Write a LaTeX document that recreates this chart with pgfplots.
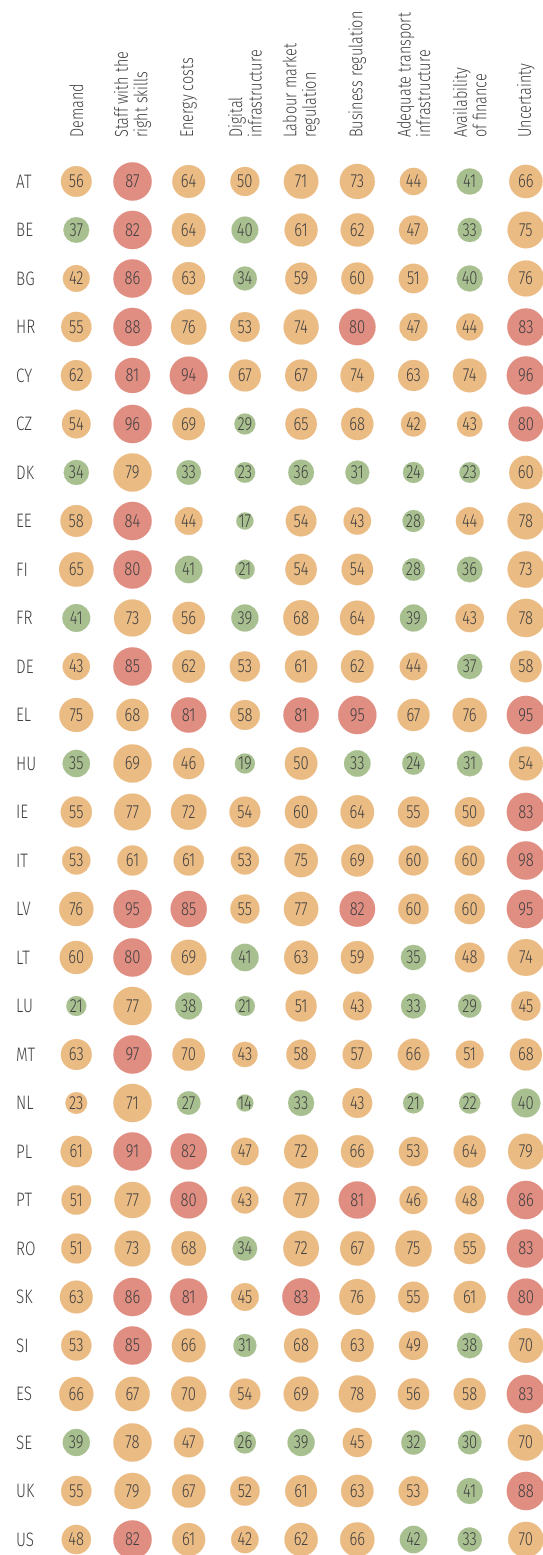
\documentclass[border=0pt]{standalone}
\usepackage{fontspec}
\setmainfont{Fira Sans}[UprightFont=* Light, FakeStretch=0.78]
\usepackage{pgfplots}
\pgfplotsset{compat=1.18}
\usepackage{pgfplotstable}
\definecolor{cgreen}{RGB}{168,192,144}
\definecolor{corange}{RGB}{235,187,132}
\definecolor{cred}{RGB}{224,141,130}
\definecolor{ctext}{RGB}{64,64,64}

% x = column, y = country row, v = value, k = colour class (0 green, 1 orange, 2 red), m = largest value of the row
\pgfplotstableread[row sep=\\]{
x y v k m\\
0 0 56 1 87\\ 1 0 87 2 87\\ 2 0 64 1 87\\ 3 0 50 1 87\\ 4 0 71 1 87\\ 5 0 73 1 87\\ 6 0 44 1 87\\ 7 0 41 0 87\\ 8 0 66 1 87\\
0 1 37 0 82\\ 1 1 82 2 82\\ 2 1 64 1 82\\ 3 1 40 0 82\\ 4 1 61 1 82\\ 5 1 62 1 82\\ 6 1 47 1 82\\ 7 1 33 0 82\\ 8 1 75 1 82\\
0 2 42 1 86\\ 1 2 86 2 86\\ 2 2 63 1 86\\ 3 2 34 0 86\\ 4 2 59 1 86\\ 5 2 60 1 86\\ 6 2 51 1 86\\ 7 2 40 0 86\\ 8 2 76 1 86\\
0 3 55 1 88\\ 1 3 88 2 88\\ 2 3 76 1 88\\ 3 3 53 1 88\\ 4 3 74 1 88\\ 5 3 80 2 88\\ 6 3 47 1 88\\ 7 3 44 1 88\\ 8 3 83 2 88\\
0 4 62 1 96\\ 1 4 81 2 96\\ 2 4 94 2 96\\ 3 4 67 1 96\\ 4 4 67 1 96\\ 5 4 74 1 96\\ 6 4 63 1 96\\ 7 4 74 1 96\\ 8 4 96 2 96\\
0 5 54 1 96\\ 1 5 96 2 96\\ 2 5 69 1 96\\ 3 5 29 0 96\\ 4 5 65 1 96\\ 5 5 68 1 96\\ 6 5 42 1 96\\ 7 5 43 1 96\\ 8 5 80 2 96\\
0 6 34 0 79\\ 1 6 79 1 79\\ 2 6 33 0 79\\ 3 6 23 0 79\\ 4 6 36 0 79\\ 5 6 31 0 79\\ 6 6 24 0 79\\ 7 6 23 0 79\\ 8 6 60 1 79\\
0 7 58 1 84\\ 1 7 84 2 84\\ 2 7 44 1 84\\ 3 7 17 0 84\\ 4 7 54 1 84\\ 5 7 43 1 84\\ 6 7 28 0 84\\ 7 7 44 1 84\\ 8 7 78 1 84\\
0 8 65 1 80\\ 1 8 80 2 80\\ 2 8 41 0 80\\ 3 8 21 0 80\\ 4 8 54 1 80\\ 5 8 54 1 80\\ 6 8 28 0 80\\ 7 8 36 0 80\\ 8 8 73 1 80\\
0 9 41 0 78\\ 1 9 73 1 78\\ 2 9 56 1 78\\ 3 9 39 0 78\\ 4 9 68 1 78\\ 5 9 64 1 78\\ 6 9 39 0 78\\ 7 9 43 1 78\\ 8 9 78 1 78\\
0 10 43 1 85\\ 1 10 85 2 85\\ 2 10 62 1 85\\ 3 10 53 1 85\\ 4 10 61 1 85\\ 5 10 62 1 85\\ 6 10 44 1 85\\ 7 10 37 0 85\\ 8 10 58 1 85\\
0 11 75 1 95\\ 1 11 68 1 95\\ 2 11 81 2 95\\ 3 11 58 1 95\\ 4 11 81 2 95\\ 5 11 95 2 95\\ 6 11 67 1 95\\ 7 11 76 1 95\\ 8 11 95 2 95\\
0 12 35 0 69\\ 1 12 69 1 69\\ 2 12 46 1 69\\ 3 12 19 0 69\\ 4 12 50 1 69\\ 5 12 33 0 69\\ 6 12 24 0 69\\ 7 12 31 0 69\\ 8 12 54 1 69\\
0 13 55 1 83\\ 1 13 77 1 83\\ 2 13 72 1 83\\ 3 13 54 1 83\\ 4 13 60 1 83\\ 5 13 64 1 83\\ 6 13 55 1 83\\ 7 13 50 1 83\\ 8 13 83 2 83\\
0 14 53 1 98\\ 1 14 61 1 98\\ 2 14 61 1 98\\ 3 14 53 1 98\\ 4 14 75 1 98\\ 5 14 69 1 98\\ 6 14 60 1 98\\ 7 14 60 1 98\\ 8 14 98 2 98\\
0 15 76 1 95\\ 1 15 95 2 95\\ 2 15 85 2 95\\ 3 15 55 1 95\\ 4 15 77 1 95\\ 5 15 82 2 95\\ 6 15 60 1 95\\ 7 15 60 1 95\\ 8 15 95 2 95\\
0 16 60 1 80\\ 1 16 80 2 80\\ 2 16 69 1 80\\ 3 16 41 0 80\\ 4 16 63 1 80\\ 5 16 59 1 80\\ 6 16 35 0 80\\ 7 16 48 1 80\\ 8 16 74 1 80\\
0 17 21 0 77\\ 1 17 77 1 77\\ 2 17 38 0 77\\ 3 17 21 0 77\\ 4 17 51 1 77\\ 5 17 43 1 77\\ 6 17 33 0 77\\ 7 17 29 0 77\\ 8 17 45 1 77\\
0 18 63 1 97\\ 1 18 97 2 97\\ 2 18 70 1 97\\ 3 18 43 1 97\\ 4 18 58 1 97\\ 5 18 57 1 97\\ 6 18 66 1 97\\ 7 18 51 1 97\\ 8 18 68 1 97\\
0 19 23 1 71\\ 1 19 71 1 71\\ 2 19 27 0 71\\ 3 19 14 0 71\\ 4 19 33 0 71\\ 5 19 43 1 71\\ 6 19 21 0 71\\ 7 19 22 0 71\\ 8 19 40 0 71\\
0 20 61 1 91\\ 1 20 91 2 91\\ 2 20 82 2 91\\ 3 20 47 1 91\\ 4 20 72 1 91\\ 5 20 66 1 91\\ 6 20 53 1 91\\ 7 20 64 1 91\\ 8 20 79 1 91\\
0 21 51 1 86\\ 1 21 77 1 86\\ 2 21 80 2 86\\ 3 21 43 1 86\\ 4 21 77 1 86\\ 5 21 81 2 86\\ 6 21 46 1 86\\ 7 21 48 1 86\\ 8 21 86 2 86\\
0 22 51 1 83\\ 1 22 73 1 83\\ 2 22 68 1 83\\ 3 22 34 0 83\\ 4 22 72 1 83\\ 5 22 67 1 83\\ 6 22 75 1 83\\ 7 22 55 1 83\\ 8 22 83 2 83\\
0 23 63 1 86\\ 1 23 86 2 86\\ 2 23 81 2 86\\ 3 23 45 1 86\\ 4 23 83 2 86\\ 5 23 76 1 86\\ 6 23 55 1 86\\ 7 23 61 1 86\\ 8 23 80 2 86\\
0 24 53 1 85\\ 1 24 85 2 85\\ 2 24 66 1 85\\ 3 24 31 0 85\\ 4 24 68 1 85\\ 5 24 63 1 85\\ 6 24 49 1 85\\ 7 24 38 0 85\\ 8 24 70 1 85\\
0 25 66 1 83\\ 1 25 67 1 83\\ 2 25 70 1 83\\ 3 25 54 1 83\\ 4 25 69 1 83\\ 5 25 78 1 83\\ 6 25 56 1 83\\ 7 25 58 1 83\\ 8 25 83 2 83\\
0 26 39 0 78\\ 1 26 78 1 78\\ 2 26 47 1 78\\ 3 26 26 0 78\\ 4 26 39 0 78\\ 5 26 45 1 78\\ 6 26 32 0 78\\ 7 26 30 0 78\\ 8 26 70 1 78\\
0 27 55 1 88\\ 1 27 79 1 88\\ 2 27 67 1 88\\ 3 27 52 1 88\\ 4 27 61 1 88\\ 5 27 63 1 88\\ 6 27 53 1 88\\ 7 27 41 0 88\\ 8 27 88 2 88\\
0 28 48 1 82\\ 1 28 82 2 82\\ 2 28 61 1 82\\ 3 28 42 1 82\\ 4 28 62 1 82\\ 5 28 66 1 82\\ 6 28 42 0 82\\ 7 28 33 0 82\\ 8 28 70 1 82\\
}\data

\newcommand{\hdr}{\fontsize{18.5}{19.5}\selectfont}

\begin{document}
\begin{tikzpicture}
\useasboundingbox (0,0) rectangle (543pt,1555pt);
\begin{axis}[
  at={(0,0)}, anchor=south west,
  scale only axis, width=543pt, height=1555pt,
  xmin=-1.3577, xmax=8.3043, ymin=-3.742, ymax=28.32, y dir=reverse,
  axis line style={draw=none}, major tick length=0pt,
  xtick=\empty,
  ytick={0,...,28},
  yticklabels={AT,BE,BG,HR,CY,CZ,DK,EE,FI,FR,DE,EL,HU,IE,IT,LV,LT,LU,MT,NL,PL,PT,RO,SK,SI,ES,SE,UK,US},
  yticklabel style={anchor=west, inner sep=0pt, xshift=16pt,
    font=\fontsize{19.5}{20}\selectfont, text=ctext},
  colormap={tri}{rgb255=(168,192,144) rgb255=(235,187,132) rgb255=(224,141,130)},
  point meta min=0, point meta max=2,
  clip=false,
]
% bubbles
\addplot[scatter, only marks, mark=*,
    point meta=\thisrow{k},
    visualization depends on={19.15*sqrt(\thisrow{v}/\thisrow{m}) \as \rad},
    scatter/use mapped color={draw=mapped color, fill=mapped color, line width=0.1pt, /tikz/mark size=\rad},
  ] table[x=x, y=y] {\data};
% numbers
\addplot[only marks, mark=none,
    visualization depends on={\thisrow{v} \as \val},
    nodes near coords={\pgfmathtruncatemacro\n{\val}\n},
    every node near coord/.append style={anchor=center, inner sep=0pt,
      font=\fontsize{19}{20}\selectfont, text=ctext},
  ] table[x=x, y=y] {\data};
\tikzset{hd/.style={rotate=90, anchor=west, align=left, inner sep=0pt, font=\hdr, text=ctext}}
\node[hd] at (axis cs:0,-0.897) {Demand};
\node[hd] at (axis cs:1,-0.897) {Staff with the\\right skills};
\node[hd] at (axis cs:2,-0.897) {Energy costs};
\node[hd] at (axis cs:3,-0.897) {Digital\\infrastructure};
\node[hd] at (axis cs:4,-0.897) {Labour market\\regulation};
\node[hd] at (axis cs:5,-0.897) {Business regulation};
\node[hd] at (axis cs:6,-0.897) {Adequate transport\\infrastructure};
\node[hd] at (axis cs:7,-0.897) {Availability\\of finance};
\node[hd] at (axis cs:8,-0.897) {Uncertainty};
\end{axis}
\end{tikzpicture}
\end{document}
